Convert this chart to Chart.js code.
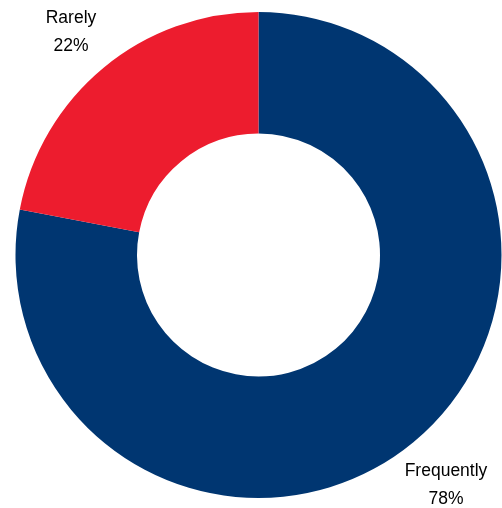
<!DOCTYPE html>
<html>
<head>
<meta charset="utf-8">
<script src="https://cdn.jsdelivr.net/npm/chart.js@4"></script>
<style>
    html, body { margin: 0; padding: 0; background: #fff; }
    #wrap { width: 502px; height: 508px; }
</style>
</head>
<body>
<div id="wrap"><canvas id="usageChart" width="502" height="508"></canvas></div>
<script>
const categories = ['Frequently', 'Rarely'];
const shares = [78, 22];
const sliceColors = ['#003671', '#ED1C2E'];
// where each label block is centred (first line)
const labelSpots = [[446, 471], [71, 18]];

// Category name + percentage written next to each slice
const sliceLabels = {
    id: 'sliceLabels',
    afterDraw(chart) {
        const ctx = chart.ctx;
        ctx.save();
        ctx.fillStyle = '#000';
        ctx.font = '17.5px "Liberation Sans", Arial, sans-serif';
        ctx.textAlign = 'center';
        ctx.textBaseline = 'middle';
        chart.data.labels.forEach(function(name, i) {
            const x = labelSpots[i][0], y = labelSpots[i][1];
            ctx.fillText(name, x, y);
            ctx.fillText(chart.data.datasets[0].data[i] + '%', x, y + 28);
        });
        ctx.restore();
    }
};

document.addEventListener('DOMContentLoaded', function() {
    const ctx = document.getElementById('usageChart').getContext('2d');
    new Chart(ctx, {
        type: 'doughnut',
        data: {
            labels: categories,
            datasets: [{
                data: shares,
                backgroundColor: sliceColors,
                borderWidth: 0
            }]
        },
        options: {
            responsive: false,
            animation: false,
            cutout: '50%',
            layout: { padding: { left: 15, right: 0, top: 12, bottom: 10 } },
            plugins: {
                legend: { display: false },
                tooltip: { enabled: false }
            }
        },
        plugins: [sliceLabels]
    });
});
</script>
</body>
</html>
